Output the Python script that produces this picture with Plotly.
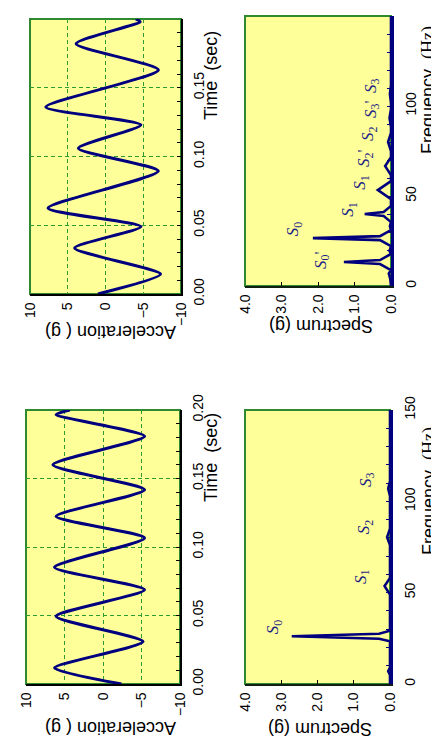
import plotly.graph_objects as go

# ---------------- data ----------------
# Panel A (top-left): acceleration waveform, time in s, acceleration in g
time_a = [0.000, 0.0145, 0.0334, 0.049, 0.0625, 0.0894, 0.106, 0.123, 0.136, 0.163, 0.182, 0.198, 0.200]
accel_a = [1.0, -7.3, 4.1, -4.7, 7.6, -7.0, 3.6, -4.7, 7.9, -7.0, 3.9, -4.6, -4.0]

# Panel B (top-right): spectrum of A, frequency in Hz, amplitude in g
freq_b = [0, 4, 7, 8.8, 12.2, 13.3, 14.4, 17.8, 19.5, 22.1, 25.5, 26.6, 27.7, 31.1, 33.2, 35.5,
          38.9, 40.0, 41.1, 44.5, 48.3, 53.3, 58.3, 61.6, 66.6, 71.6, 75.0, 80.0, 85.0, 88.3,
          93.3, 98.3, 101.6, 106.6, 111.6, 130, 150]
spec_b = [0, 0.02, 0.06, 0, 0.3, 1.29, 0.3, 0, 0.04, 0, 0.3, 2.14, 0.3, 0, 0.03, 0,
          0.2, 0.72, 0.2, 0, 0, 0.36, 0, 0, 0.16, 0, 0, 0.08, 0, 0,
          0.04, 0, 0, 0.03, 0, 0, 0]
labels_b = ["<i>S</i><sub>0</sub>'", "<i>S</i><sub>0</sub>", "<i>S</i><sub>1</sub>", "<i>S</i><sub>1</sub>",
            "<i>S</i><sub>2</sub>'", "<i>S</i><sub>2</sub>", "<i>S</i><sub>3</sub>'", "<i>S</i><sub>3</sub>"]
label_b_val = [1.73, 2.49, 0.99, 0.66, 0.55, 0.44, 0.36, 0.36]
label_b_freq = [12.2, 29.4, 40.6, 55.6, 68.9, 82.8, 96.1, 109.4]

# Panel C (bottom-left): acceleration waveform
time_c = [0.000, 0.0117, 0.031, 0.0494, 0.0688, 0.0852, 0.1066, 0.1224, 0.1418, 0.160, 0.1808, 0.1966, 0.200]
accel_c = [-2.4, 6.3, -5.2, 6.1, -5.4, 6.3, -5.4, 6.1, -5.4, 6.5, -5.4, 6.1, 4.3]

# Panel D (bottom-right): spectrum of C
freq_d = [0, 5, 7, 9, 20, 23.4, 24.8, 26.1, 27.5, 29.2, 40, 49, 53.6, 58, 76, 80.4, 85, 103, 107, 111, 150]
spec_d = [0, 0, 0.05, 0, 0, 0, 0.3, 2.71, 0.3, 0, 0, 0, 0.15, 0, 0, 0.08, 0, 0, 0.05, 0, 0]
labels_d = ["<i>S</i><sub>0</sub>", "<i>S</i><sub>1</sub>", "<i>S</i><sub>2</sub>", "<i>S</i><sub>3</sub>"]
label_d_val = [3.03, 0.61, 0.52, 0.47]
label_d_freq = [29.0, 56.9, 83.7, 110.0]

accel_ticks = [10, 5, 0, -5, -10]
time_ticks = [0.00, 0.05, 0.10, 0.15, 0.20]
spec_ticks = [4.0, 3.0, 2.0, 1.0, 0.0]
freq_ticks = [0, 50, 100, 150]

# ---------------- styling ----------------
W, H = 439, 746
NAVY = "#00007f"
BG = "#ffff99"
FRAME = "#2f8a2f"
GRID = "#2f9a2f"
SANS = "Liberation Sans Narrow, Liberation Sans, Arial, sans-serif"
TITLE_FONT = dict(family="Liberation Sans, Arial, sans-serif", size=18, color="black")
TICK_FONT = dict(family=SANS, size=14, color="black")


def px(x):
    return x / W


def py(y):
    return 1 - y / H


fig = go.Figure()

line_style = dict(color=NAVY, width=3)
fig.add_trace(go.Scatter(x=accel_a, y=time_a, xaxis="x", yaxis="y", mode="lines",
                         line=dict(**line_style, shape="spline", smoothing=0.6), showlegend=False))
fig.add_trace(go.Scatter(x=spec_b, y=freq_b, xaxis="x2", yaxis="y2", mode="lines",
                         line=dict(color=NAVY, width=2.6), showlegend=False))
fig.add_trace(go.Scatter(x=accel_c, y=time_c, xaxis="x3", yaxis="y3", mode="lines",
                         line=dict(**line_style, shape="spline", smoothing=0.6), showlegend=False))
fig.add_trace(go.Scatter(x=spec_d, y=freq_d, xaxis="x4", yaxis="y4", mode="lines",
                         line=dict(color=NAVY, width=2.6), showlegend=False))


def wave_axes(xdom, ydom, yname):
    xa = dict(domain=xdom, range=[10, -10], anchor=yname, tickmode="array", tickvals=accel_ticks,
              tickangle=-90, showgrid=True, gridcolor=GRID, griddash="4px,3px", gridwidth=1,
              zeroline=False, showline=True, linecolor="black", linewidth=1.5, ticks="",
              tickfont=TICK_FONT, ticklabelstandoff=1, automargin=False)
    ya = dict(domain=ydom, range=[0, 0.2], side="right", tickmode="array", tickvals=time_ticks,
              tickformat=".2f", tickangle=-90, showgrid=True, gridcolor=GRID, griddash="4px,3px",
              gridwidth=1, zeroline=False, showline=True, linecolor="black", linewidth=1.5,
              ticks="inside", ticklen=4, tickcolor="black", tickfont=TICK_FONT, ticklabelstandoff=4,
              automargin=False,
              minor=dict(dtick=0.01, tick0=0, ticks="inside", ticklen=4, tickcolor="black", showgrid=False))
    return xa, ya


def spec_axes(xdom, ydom, yname):
    xa = dict(domain=xdom, range=[4, 0], anchor=yname, tickmode="array", tickvals=spec_ticks,
              tickformat=".1f", tickangle=-90, showgrid=False, zeroline=False, showline=True,
              linecolor="#102010", linewidth=1.5, ticks="inside", ticklen=4, tickcolor="black",
              tickfont=TICK_FONT, ticklabelstandoff=1, automargin=False)
    ya = dict(domain=ydom, range=[0, 150], side="right", tickmode="array", tickvals=freq_ticks,
              tickangle=-90, showgrid=False, zeroline=False, showline=True, linecolor=NAVY,
              linewidth=2.5, ticks="inside", ticklen=4, tickcolor=NAVY, tickfont=TICK_FONT,
              ticklabelstandoff=5, automargin=False,
              minor=dict(dtick=10, tick0=0, ticks="inside", ticklen=4, tickcolor=NAVY, showgrid=False))
    return xa, ya


xa1, ya1 = wave_axes([px(22), px(173)], [py(286), py(11)], "y")
xa2, ya2 = spec_axes([px(237), px(383)], [py(278), py(8)], "y2")
xa3, ya3 = wave_axes([px(18), px(172)], [py(676), py(402)], "y3")
xa4, ya4 = spec_axes([px(237), px(382)], [py(676), py(402)], "y4")
ya1["anchor"] = "x"
ya2["anchor"] = "x2"
ya3["anchor"] = "x3"
ya4["anchor"] = "x4"

shapes = []
for xr, yr in [("x", "y"), ("x2", "y2"), ("x3", "y3"), ("x4", "y4")]:
    shapes.append(dict(type="rect", xref=f"{xr} domain", yref=f"{yr} domain", x0=0, x1=1, y0=0, y1=1,
                       line=dict(color=FRAME, width=2), layer="below"))

annotations = []
LABEL_FONT = dict(family="Liberation Serif, Times New Roman, serif", size=17, color="#1c1c86")
for txt, v, f in zip(labels_b, label_b_val, label_b_freq):
    annotations.append(dict(text=txt, x=v, y=f, xref="x2", yref="y2", showarrow=False,
                            textangle=-90, font=LABEL_FONT, xshift=-6, yshift=4))
for txt, v, f in zip(labels_d, label_d_val, label_d_freq):
    annotations.append(dict(text=txt, x=v, y=f, xref="x4", yref="y4", showarrow=False,
                            textangle=-90, font=LABEL_FONT, xshift=-6, yshift=4))

HZ = "<span style='font-family:Liberation Serif, Times New Roman, serif'>(Hz)</span>"
titles = [
    ("Acceleration ( g)", 103, 324, 180),
    ("Spectrum (g)", 313, 318, 180),
    ("Acceleration ( g)", 103, 720, 180),
    ("Spectrum (g)", 312, 721, 180),
    ("Time  (sec)", 203, 68, -90),
    ("Time  (sec)", 203, 450, -90),
    ("Frequency  " + HZ, 421, 82, -90),
    ("Frequency  " + HZ, 421, 483, -90),
]
for txt, x, y, ang in titles:
    annotations.append(dict(text=txt, x=px(x), y=py(y), xref="paper", yref="paper", showarrow=False,
                            textangle=ang, font=TITLE_FONT, xanchor="center", yanchor="middle"))

fig.update_layout(
    width=W, height=H,
    margin=dict(l=0, r=0, t=0, b=0, autoexpand=False),
    paper_bgcolor="white",
    plot_bgcolor=BG,
    xaxis=xa1, yaxis=ya1, xaxis2=xa2, yaxis2=ya2,
    xaxis3=xa3, yaxis3=ya3, xaxis4=xa4, yaxis4=ya4,
    shapes=shapes,
    annotations=annotations,
    showlegend=False,
)

fig.write_html("out.html")
